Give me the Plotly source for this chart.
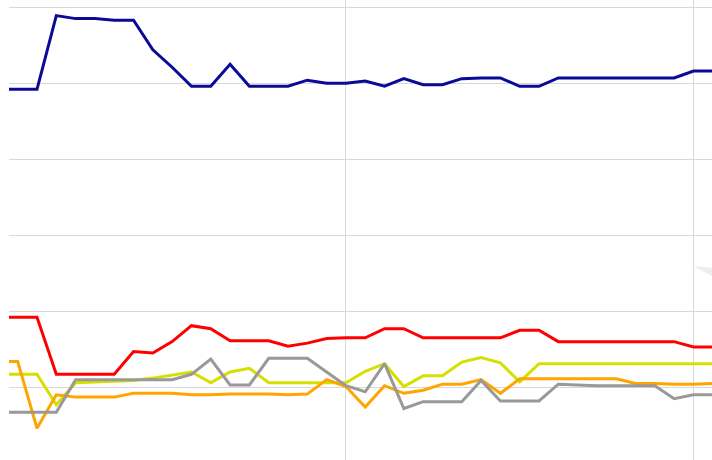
import plotly.graph_objects as go

# point index along the x axis (first one sits just left of the visible area)
steps = list(range(38))

blue = [49.3, 49.3, 49.3, 59.0, 58.6, 58.6, 58.4, 58.4, 54.5, 52.2,
        49.7, 49.7, 52.6, 49.7, 49.7, 49.7, 50.5, 50.1, 50.1, 50.4,
        49.7, 50.7, 49.9, 49.9, 50.7, 50.8, 50.8, 49.7, 49.7, 50.8,
        50.8, 50.8, 50.8, 50.8, 50.8, 50.8, 51.7, 51.7]
red = [19.3, 19.3, 19.3, 11.8, 11.8, 11.8, 11.8, 14.8, 14.6, 16.1,
       18.2, 17.8, 16.2, 16.2, 16.2, 15.5, 15.9, 16.5, 16.6, 16.6,
       17.8, 17.8, 16.6, 16.6, 16.6, 16.6, 16.6, 17.6, 17.6, 16.1,
       16.1, 16.1, 16.1, 16.1, 16.1, 16.1, 15.4, 15.4]
yellow = [11.8, 11.8, 11.8, 7.8, 10.7, 10.8, 10.9, 11.0, 11.3, 11.7,
          12.1, 10.7, 12.1, 12.6, 10.7, 10.7, 10.7, 10.7, 10.7, 12.2,
          13.2, 10.2, 11.6, 11.6, 13.4, 14.0, 13.3, 10.8, 13.2, 13.2,
          13.2, 13.2, 13.2, 13.2, 13.2, 13.2, 13.2, 13.2]
orange = [13.5, 13.5, 4.7, 9.1, 8.8, 8.8, 8.8, 9.3, 9.3, 9.3,
          9.1, 9.1, 9.2, 9.2, 9.2, 9.1, 9.2, 11.1, 10.2, 7.5,
          10.3, 9.3, 9.7, 10.5, 10.5, 11.1, 9.3, 11.2, 11.2, 11.2,
          11.2, 11.2, 11.2, 10.6, 10.6, 10.5, 10.5, 10.6]
gray = [6.8, 6.8, 6.8, 6.8, 11.1, 11.1, 11.1, 11.1, 11.1, 11.1,
        11.8, 13.8, 10.4, 10.4, 13.9, 13.9, 13.9, 12.1, 10.3, 9.5,
        13.2, 7.3, 8.2, 8.2, 8.2, 11.0, 8.3, 8.3, 8.3, 10.5,
        10.4, 10.3, 10.3, 10.3, 10.3, 8.6, 9.1, 9.1]

series = [
    (yellow, "#d6e000"),
    (orange, "#ffa500"),
    (gray, "#999999"),
    (red, "#ff0000"),
    (blue, "#0a0a96"),
]

fig = go.Figure()
for values, colour in series:
    fig.add_trace(go.Scatter(
        x=steps, y=values, mode="lines",
        line=dict(color=colour, width=3),
        hoverinfo="skip",
    ))

fig.update_xaxes(
    range=[0.55, 36.96], tick0=0, dtick=18,
    showgrid=True, gridcolor="#d8d8d8", gridwidth=1,
    showticklabels=False, zeroline=False, showline=False,
)
fig.update_yaxes(
    range=[0.526, 61.05], tick0=0, dtick=10,
    showgrid=True, gridcolor="#d8d8d8", gridwidth=1,
    showticklabels=False, zeroline=False, showline=False,
)

# faint watermark corner peeking in at the right edge
fig.add_shape(
    type="path", xref="paper", yref="paper", layer="below",
    path="M 0.973 0.422 L 1.0 0.418 L 1.0 0.400 Z",
    fillcolor="#eeeeee", line=dict(width=0),
)

fig.update_layout(
    width=712, height=460,
    margin=dict(l=9, r=0, t=0, b=0),
    paper_bgcolor="white", plot_bgcolor="white",
    showlegend=False,
)

fig.write_html("out.html", config={"displayModeBar": False},
               post_script="document.body.style.margin='0';")
